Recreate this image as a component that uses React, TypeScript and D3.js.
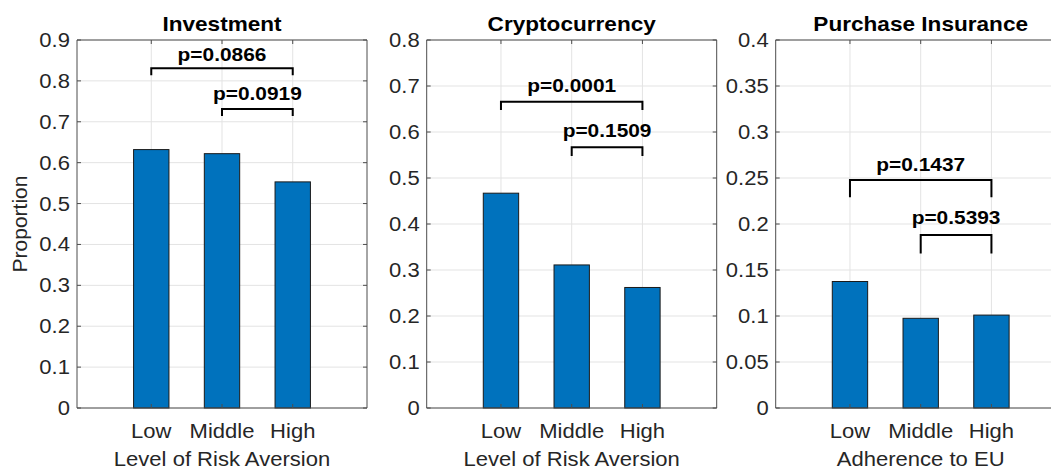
import React from 'react';
import * as d3 from 'd3';

const categories = ['Low', 'Middle', 'High'];

const investment = [0.632, 0.622, 0.553];
const cryptocurrency = [0.467, 0.311, 0.262];
const insurance = [0.1375, 0.0975, 0.101];

const titles = ['Investment', 'Cryptocurrency', 'Purchase Insurance'];
const xLabels = ['Level of Risk Aversion', 'Level of Risk Aversion', 'Adherence to EU'];
const yMaxes = [0.9, 0.8, 0.4];
const yTickCounts = [10, 8, 8];

// p-value brackets: pair of category indexes, label, bar height, tip height, text baseline (data units)
const bracketPairs = [[0, 2], [1, 2]];
const pInvestment = ['p=0.0866', 'p=0.0919'];
const pCrypto = ['p=0.0001', 'p=0.1509'];
const pInsurance = ['p=0.1437', 'p=0.5393'];
const bracketTop = [[0.831, 0.731], [0.666, 0.567], [0.2478, 0.188]];
const bracketTip = [[0.814, 0.714], [0.648, 0.548], [0.229, 0.168]];
const pTextY = [[0.8486, 0.7533], [0.6876, 0.5885], [0.2579, 0.2]];

const W = 1051, H = 471;
const panelLeft = [77, 426.7, 775.7];
const panelW = 290;
const top = 40, bottom = 408;
const font = 'Liberation Sans, Arial, Helvetica, sans-serif';
const SX = 1.13;
const axisColor = '#4d4d4d';
const gridColor = '#e3e3e3';

function Txt({ x, y, size, weight = 'normal', anchor = 'middle', fill = '#262626', children }: any) {
  return (
    <text transform={`translate(${x},${y}) scale(${SX},1)`} fontSize={size} fontWeight={weight}
      textAnchor={anchor} fill={fill} fontFamily={font}>{children}</text>
  );
}

function Panel({ idx, values, pLabels }: { idx: number; values: number[]; pLabels: string[] }) {
  const left = panelLeft[idx];
  const right = left + panelW;
  const x = d3.scaleLinear().domain([-0.05, 4.05]).range([left, right]);
  const y = d3.scaleLinear().domain([0, yMaxes[idx]]).range([bottom, top]);
  const yTicks = y.ticks(yTickCounts[idx]);
  const xTicks = categories.map((_, i) => i + 1);
  const fmt = (v: number) => String(+v.toFixed(2));
  const tl = 4;
  return (
    <g>
      {/* grid */}
      {yTicks.map(t => (
        <line key={'gy' + t} x1={left} x2={right} y1={y(t)} y2={y(t)} stroke={gridColor} strokeWidth={1} />
      ))}
      {xTicks.map(t => (
        <line key={'gx' + t} x1={x(t)} x2={x(t)} y1={top} y2={bottom} stroke={gridColor} strokeWidth={1} />
      ))}
      {/* bars */}
      {values.map((v, i) => (
        <rect key={'b' + i} x={x(i + 1 - 0.25)} y={y(v)} width={x(i + 1.25) - x(i + 0.75)}
          height={bottom - y(v)} fill="#0072BD" stroke="#1a1a1a" strokeWidth={1} />
      ))}
      {/* axes box */}
      <line x1={left} x2={right} y1={bottom} y2={bottom} stroke={axisColor} />
      <line x1={left} x2={right} y1={top} y2={top} stroke={axisColor} />
      <line x1={left} x2={left} y1={top} y2={bottom} stroke={axisColor} />
      <line x1={right} x2={right} y1={top} y2={bottom} stroke={axisColor} />
      {yTicks.map(t => (
        <g key={'ty' + t}>
          <line x1={left} x2={left + tl} y1={y(t)} y2={y(t)} stroke={axisColor} />
          <line x1={right} x2={right - tl} y1={y(t)} y2={y(t)} stroke={axisColor} />
          <Txt x={left - 7} y={y(t) + 7} size={19.5} anchor="end">{fmt(t)}</Txt>
        </g>
      ))}
      {xTicks.map((t, i) => (
        <g key={'tx' + t}>
          <line x1={x(t)} x2={x(t)} y1={bottom} y2={bottom - tl} stroke={axisColor} />
          <line x1={x(t)} x2={x(t)} y1={top} y2={top + tl} stroke={axisColor} />
          <Txt x={x(t)} y={438} size={19.5}>{categories[i]}</Txt>
        </g>
      ))}
      {/* brackets */}
      {bracketPairs.map(([a, b], k) => {
        const xa = x(a + 1), xb = x(b + 1);
        const yt = y(bracketTop[idx][k]), yp = y(bracketTip[idx][k]);
        return (
          <g key={'br' + k}>
            <path d={`M${xa},${yp}V${yt}H${xb}V${yp}`} fill="none" stroke="#000" strokeWidth={2} />
            <Txt x={(xa + xb) / 2} y={y(pTextY[idx][k])} size={18.5} weight="bold" fill="#000">{pLabels[k]}</Txt>
          </g>
        );
      })}
      <Txt x={(left + right) / 2} y={31} size={20} weight="bold" fill="#000">{titles[idx]}</Txt>
      <Txt x={(left + right) / 2} y={466} size={19.5}>{xLabels[idx]}</Txt>
    </g>
  );
}

export default function App() {
  return (
    <svg width={W} height={H} style={{ position: 'absolute', left: 0, top: 0, background: '#fff' }}>
      <rect width={W} height={H} fill="#fff" />
      <Panel idx={0} values={investment} pLabels={pInvestment} />
      <Panel idx={1} values={cryptocurrency} pLabels={pCrypto} />
      <Panel idx={2} values={insurance} pLabels={pInsurance} />
      <text transform={`translate(27,${(top + bottom) / 2}) rotate(-90)`} fontSize={21} textAnchor="middle"
        fill="#262626" fontFamily={font}>Proportion</text>
    </svg>
  );
}
